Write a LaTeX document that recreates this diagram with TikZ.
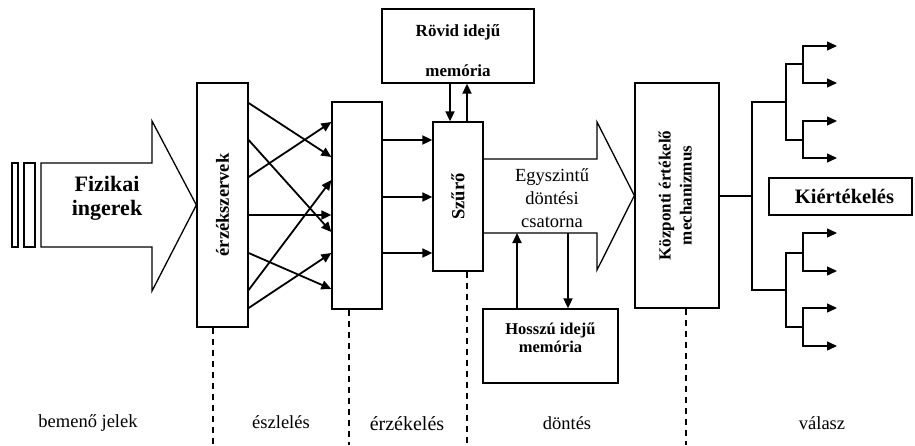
\documentclass[tikz,border=0pt]{standalone}
\usepackage{fontspec}
\setmainfont{Liberation Serif}
\usetikzlibrary{arrows.meta}
\begin{document}
\begin{tikzpicture}[x=1pt,y=-1pt,
  box/.style={draw,line width=1.3pt,inner sep=0pt,fill=white},
  outline/.style={draw,line width=1.3pt,line join=miter},
  arr/.style={line width=1.8pt,-{Triangle[length=10pt,width=9pt]}},
  tree/.style={line width=1.3pt},
  treearr/.style={line width=1.3pt,{Triangle[length=10pt,width=9pt]}-{Triangle[length=10pt,width=9pt]}},
  guide/.style={line width=1.2pt,dash pattern=on 6pt off 5pt},
  lbl/.style={font=\fontsize{18.5}{20}\selectfont},
  bold/.style={font=\fontsize{#1}{#1}\selectfont\bfseries},
]
\useasboundingbox (0,0) rectangle (915,445);

% boxes
\node[box,minimum width=51pt,minimum height=244pt] (erz) at (222.5,205)
  {\rotatebox{90}{\fontsize{18.5}{20}\selectfont\bfseries érzékszervek}};
\node[box,minimum width=50pt,minimum height=207pt] (erzkel) at (357,205.5) {};
\node[box,minimum width=50pt,minimum height=149pt] (szuro) at (458,196.5)
  {\rotatebox{90}{\fontsize{18.5}{20}\selectfont\bfseries Szűrő}};
\node[box,minimum width=152pt,minimum height=74pt] (rovid) at (458,46) {};
\node[bold=17,align=center] (rovidtxt) at (458,50.5) {Rövid idejű\\[23pt]memória};
\node[box,minimum width=135pt,minimum height=74pt] (hosszu) at (550.5,346) {};
\node[bold=16.5,align=center] (hosszutxt) at (550.5,338) {Hosszú idejű\\[2pt]memória};
\node[box,minimum width=84pt,minimum height=225pt] (kozp) at (677,195.5)
  {\rotatebox{90}{\fontsize{17}{21}\selectfont\bfseries
   \begin{tabular}{@{}c@{}}Központi értékelő\\mechanizmus\end{tabular}}};
\node[box,minimum width=143pt,minimum height=37pt] (kiert) at (840.5,196.5)
  {\fontsize{20.5}{22}\selectfont\bfseries\hspace*{8pt}Kiértékelés};

% incoming stimuli
\draw[outline] (12,163) rectangle (18,247);
\draw[outline] (24,163) rectangle (35,247);
\draw[outline] (41,163) -- (152,163) -- (152,121) -- (erz.west)
  -- (152,291) -- (152,247) -- (41,247) -- cycle;
\node[font=\fontsize{22}{24}\selectfont\bfseries,align=center] (fiz) at (107,198)
  {Fizikai\\ingerek};

% single-level decision channel
\draw[outline] (szuro.east |- 0,159) -- (597,159) -- (597,122) -- (kozp.west)
  -- (597,270) -- (597,233) -- (szuro.east |- 0,233);
\node[font=\fontsize{18.5}{23}\selectfont,align=center] (chan) at (552,198)
  {Egyszintű\\döntési\\csatorna};
\coordinate (chbot) at (540,233);

% sense organs to perception
\foreach \a/\b in {103/157,140/232,177/122,215/215,253/289,290/180,308/253}
  \draw[arr] (erz.east |- 0,\a) -- (erzkel.west |- 0,\b);
\foreach \y in {140,197,253}
  \draw[arr] (erzkel.east |- 0,\y) -- (szuro.west |- 0,\y);

% memories
\draw[arr] (rovid.south -| 450,0) -- (szuro.north -| 450,0);
\draw[arr] (szuro.north -| 467,0) -- (rovid.south -| 467,0);
\draw[arr] (hosszu.north -| 517,0) -- (chbot -| 517,0);
\draw[arr] (chbot -| 568,0) -- (hosszu.north -| 568,0);

% response tree
\coordinate (t0) at (752,196);
\draw[tree] (kozp.east |- t0) -- (t0);
\draw[tree] (786,102) -- (752,102) -- (752,290) -- (786,290);
\draw[tree] (803,64) -- (786,64) -- (786,140) -- (803,140);
\draw[tree] (803,253) -- (786,253) -- (786,327) -- (803,327);
\foreach \u/\v in {46/83,121/158,233/271,308/346}
  \draw[treearr] (837,\u) -- (803,\u) -- (803,\v) -- (837,\v);

% stage separators
\draw[guide] (erz.south -| 213,0) -- (213,445);
\draw[guide] (erzkel.south -| 349,0) -- (349,445);
\draw[guide] (szuro.south -| 467,0) -- (467,445);
\draw[guide] (kozp.south -| 686,0) -- (686,445);

% stage names
\node[lbl] (s1) at (88,423) {bemenő jelek};
\node[lbl] (s2) at (281,422) {észlelés};
\node[font=\fontsize{20}{22}\selectfont] (s3) at (407,424) {érzékelés};
\node[lbl] (s4) at (567,423) {döntés};
\node[lbl] (s5) at (822,423) {válasz};
\end{tikzpicture}
\end{document}
